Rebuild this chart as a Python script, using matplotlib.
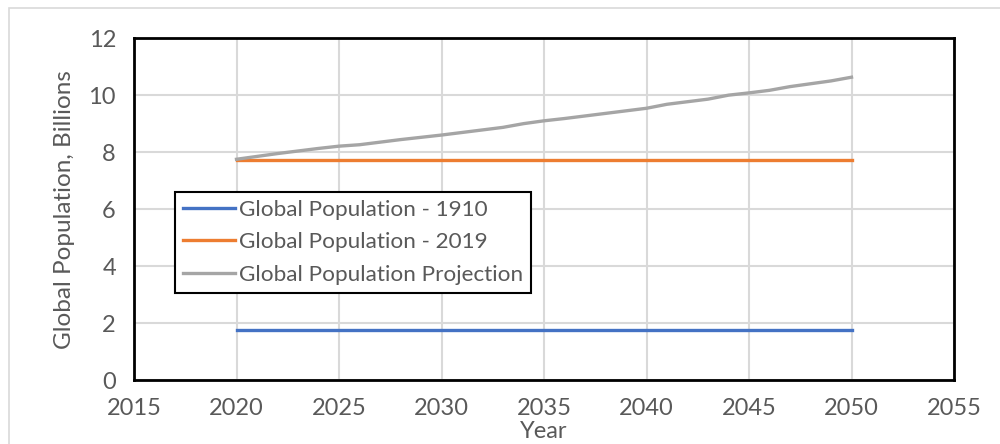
import matplotlib.pyplot as plt
from matplotlib.patches import Rectangle

# Data
years = list(range(2020, 2051))
pop_1910 = [1.75] * len(years)
pop_2019 = [7.72] * len(years)
projection = [7.75, 7.85, 7.95, 8.04, 8.13, 8.21, 8.26, 8.35, 8.44, 8.52,
              8.60, 8.69, 8.78, 8.87, 9.00, 9.10, 9.18, 9.27, 9.36, 9.45,
              9.54, 9.68, 9.77, 9.86, 10.00, 10.08, 10.17, 10.30, 10.40, 10.50,
              10.63]
x_ticks = [2015, 2020, 2025, 2030, 2035, 2040, 2045, 2050, 2055]
y_ticks = [0, 2, 4, 6, 8, 10, 12]

plt.rcParams['font.family'] = ['Lato', 'DejaVu Sans']
text_color = '#595959'

fig = plt.figure(figsize=(10, 4.44), dpi=100)
ax = fig.add_axes([0.134, 0.144, 0.82, 0.77])

# light outer chart border like Excel
fig.patches.append(Rectangle((0.009, -0.05), 1.05, 1.05 - 8 / 444,
                             transform=fig.transFigure, fill=False,
                             edgecolor='#d9d9d9', linewidth=1.2))

ax.plot(years, pop_1910, color='#4472C4', linewidth=2.4, label='Global Population - 1910')
ax.plot(years, pop_2019, color='#ED7D31', linewidth=2.4, label='Global Population - 2019')
ax.plot(years, projection, color='#A5A5A5', linewidth=2.4, label='Global Population Projection')

ax.set_xlim(2015, 2055)
ax.set_ylim(0, 12)
ax.set_xticks(x_ticks)
ax.set_yticks(y_ticks)
ax.grid(True, color='#d9d9d9', linewidth=1.5)
ax.set_axisbelow(True)
ax.tick_params(length=0, labelsize=17, labelcolor=text_color)
ax.tick_params(axis='y', pad=13)
ax.tick_params(axis='x', pad=13)
for s in ax.spines.values():
    s.set_color('black')
    s.set_linewidth(2)

ax.set_ylabel('Global Population, Billions', fontsize=17.5, color=text_color, labelpad=10)
# "Year" sits tight under the tick labels, partly cut at the bottom edge
fig.text(0.544, 1 - 421 / 444, 'Year', fontsize=17, color=text_color,
         ha='center', va='top')

leg = ax.legend(loc='upper left', bbox_to_anchor=(175 / 1000, 1 - 192 / 444),
                bbox_transform=fig.transFigure, borderaxespad=0, fancybox=False,
                fontsize=16.2, handlelength=2.3, handletextpad=0.2,
                labelspacing=0.55, borderpad=0.35, framealpha=1)
leg.get_frame().set_edgecolor('black')
leg.get_frame().set_linewidth(1.5)
for t in leg.get_texts():
    t.set_color(text_color)

fig.savefig('out.png', dpi=100)
